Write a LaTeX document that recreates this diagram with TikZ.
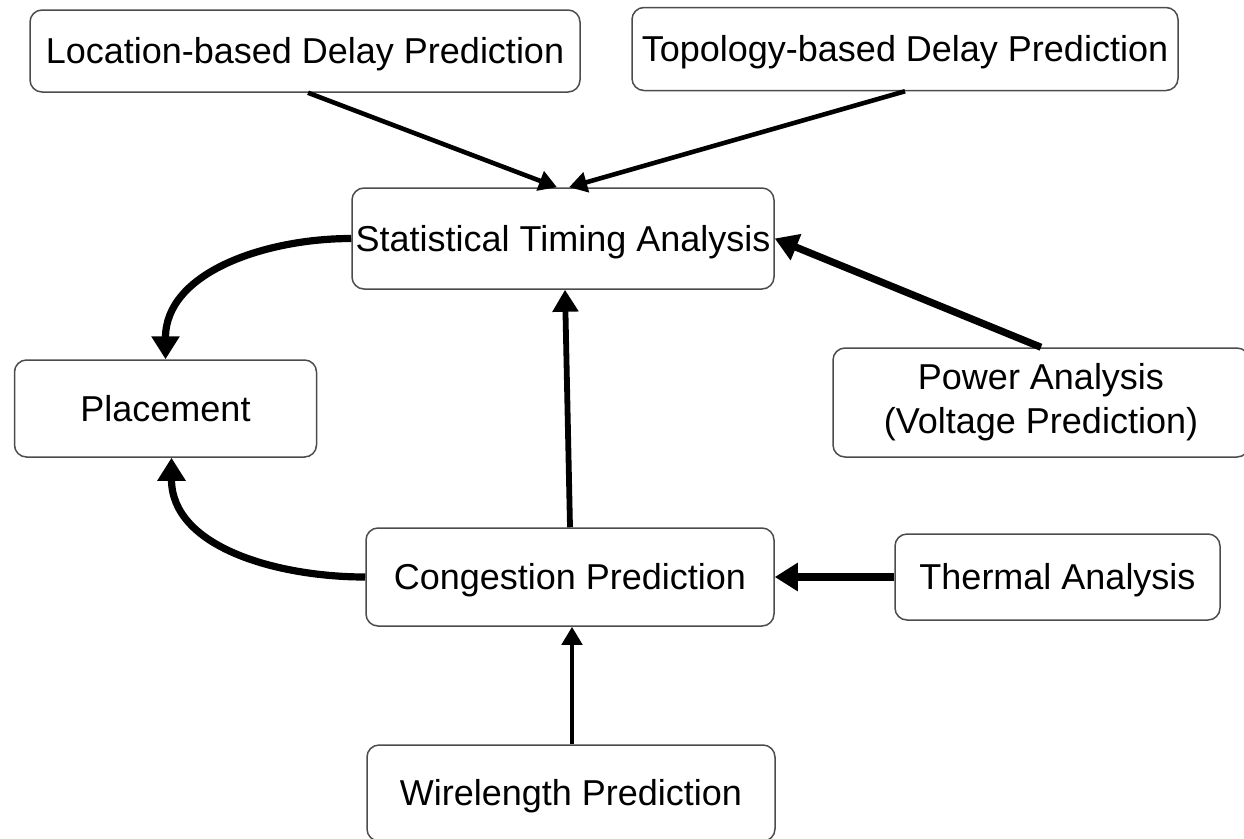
\documentclass[tikz,border=0pt]{standalone}
\usepackage{fontspec}
\setmainfont{Liberation Sans}
\usetikzlibrary{arrows.meta}
\begin{document}
\begin{tikzpicture}[x=1pt,y=1pt,
  box/.style={draw=black!70, line width=1.5pt, rounded corners=12pt, fill=white,
    inner sep=0pt, align=center, font=\fontsize{36}{44}\selectfont},
  oneline/.style={text height=33.8pt, text depth=8pt},
  thin arrow/.style={line width=4.6pt, -{Triangle[length=18pt,width=20pt]}},
  mid arrow/.style={line width=5.8pt, -{Triangle[length=22pt,width=25pt]}},
  thick arrow/.style={line width=7.2pt, -{Triangle[length=23pt,width=27pt]}}]
\useasboundingbox (0,0) rectangle (1244,-838);

% boxes
\node[box, oneline, minimum width=550pt, minimum height=82pt]  (loc)   at (305,-51)    {Location-based Delay Prediction};
\node[box, oneline, minimum width=546pt, minimum height=83pt]  (topo)  at (905,-49)    {Topology-based Delay Prediction};
\node[box, oneline, minimum width=422pt, minimum height=101pt] (sta)   at (563,-238.5) {Statistical Timing Analysis};
\node[box, oneline, minimum width=302pt, minimum height=97pt]  (place) at (165.5,-408.5) {Placement};
\node[box, minimum width=416pt, minimum height=109pt] (power) at (1041,-402.5) {Power Analysis\\(Voltage Prediction)};
\node[box, oneline, minimum width=408pt, minimum height=98pt]  (cong)  at (570,-577)   {Congestion Prediction};
\node[box, oneline, minimum width=325pt, minimum height=86pt]  (therm) at (1057.5,-577) {Thermal Analysis};
\node[box, oneline, minimum width=408pt, minimum height=96pt]  (wire)  at (571,-793)   {Wirelength Prediction};

% connectors
\draw[thin arrow] ([xshift=3pt]loc.south) -- ([xshift=-6pt]sta.north);
\draw[thin arrow] (topo.south) -- ([xshift=6pt]sta.north);
\draw[thick arrow] (power.north) -- (sta.east);
\draw[mid arrow] (cong.north) -- ([xshift=2pt]sta.south);
\draw[thick arrow] (therm.west) -- (cong.east);
\draw[thin arrow] ([xshift=1pt]wire.north) -- ([xshift=2pt]cong.south);
\draw[thick arrow] (sta.west) to[out=180,in=90] (place.north);
\draw[thick arrow] (cong.west) to[out=180,in=-90] ([xshift=6pt]place.south);
\end{tikzpicture}
\end{document}
